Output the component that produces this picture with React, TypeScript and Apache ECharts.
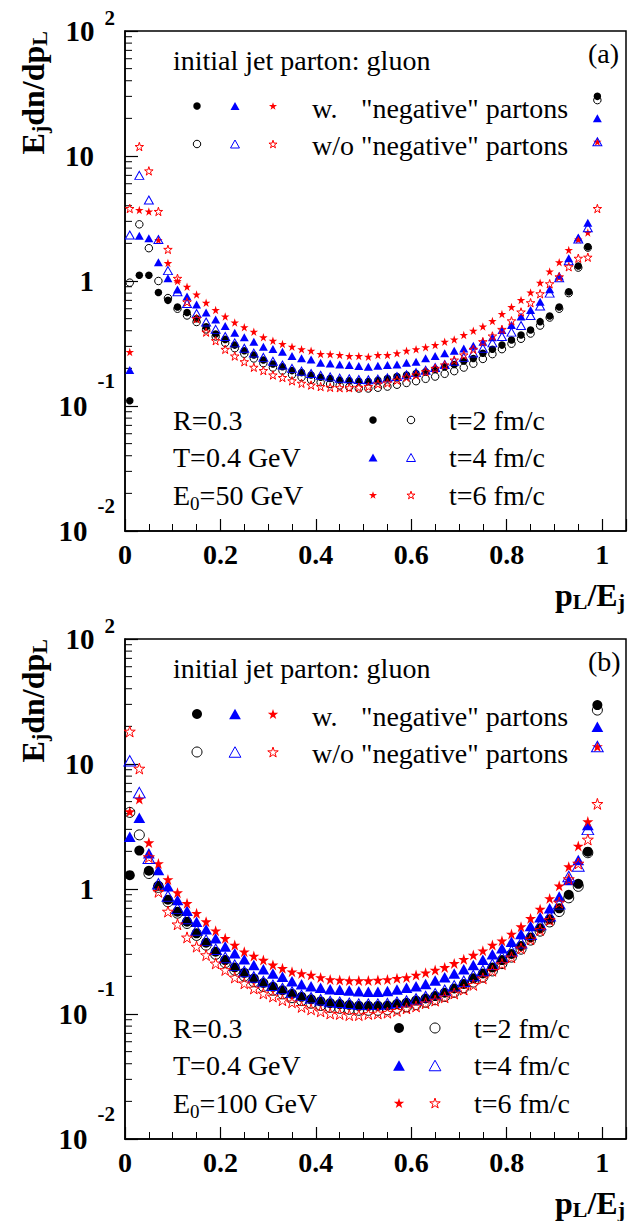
import React, { useEffect, useRef } from 'react';
import * as echarts from 'echarts';

const FONT = "'Liberation Serif', 'Times New Roman', Times, serif";

// bin centres in p_L/E_j
const pL = [0.01, 0.03, 0.05, 0.07, 0.09, 0.11, 0.13, 0.15, 0.17, 0.19, 0.21, 0.23, 0.25, 0.27, 0.29, 0.31, 0.33, 0.35, 0.37, 0.39, 0.41, 0.43, 0.45, 0.47, 0.49, 0.51, 0.53, 0.55, 0.57, 0.59, 0.61, 0.63, 0.65, 0.67, 0.69, 0.71, 0.73, 0.75, 0.77, 0.79, 0.81, 0.83, 0.85, 0.87, 0.89, 0.91, 0.93, 0.95, 0.97, 0.99];

// panel (a): E0 = 50 GeV
const a_w_t2 = [0.11, 1.11, 1.11, 0.81, 0.70, 0.62, 0.56, 0.50, 0.43, 0.377, 0.341, 0.307, 0.277, 0.256, 0.233, 0.217, 0.206, 0.192, 0.185, 0.177, 0.170, 0.166, 0.161, 0.159, 0.158, 0.157, 0.161, 0.166, 0.172, 0.177, 0.182, 0.188, 0.197, 0.206, 0.215, 0.229, 0.240, 0.264, 0.284, 0.307, 0.337, 0.370, 0.406, 0.473, 0.525, 0.62, 0.82, 1.32, 1.88, 30];
const a_wo_t2 = [0.97, 2.84, 1.83, 1.0, 0.73, 0.60, 0.53, 0.47, 0.41, 0.36, 0.32, 0.29, 0.262, 0.24, 0.22, 0.203, 0.192, 0.178, 0.170, 0.162, 0.155, 0.150, 0.146, 0.142, 0.138, 0.138, 0.140, 0.143, 0.148, 0.153, 0.158, 0.165, 0.172, 0.181, 0.190, 0.203, 0.218, 0.238, 0.26, 0.285, 0.315, 0.345, 0.38, 0.44, 0.51, 0.60, 0.80, 1.28, 1.85, 28];
const a_w_t4 = [0.194, 2.3, 2.2, 1.41, 1.05, 0.857, 0.75, 0.65, 0.56, 0.493, 0.436, 0.386, 0.354, 0.327, 0.298, 0.286, 0.272, 0.251, 0.241, 0.236, 0.222, 0.219, 0.215, 0.213, 0.209, 0.206, 0.210, 0.213, 0.215, 0.222, 0.226, 0.241, 0.251, 0.264, 0.277, 0.289, 0.304, 0.327, 0.354, 0.406, 0.445, 0.519, 0.586, 0.683, 0.86, 1.1, 1.52, 2.23, 2.93, 20];
const a_wo_t4 = [2.33, 7.0, 4.45, 2.15, 1.21, 0.82, 0.66, 0.55, 0.47, 0.41, 0.36, 0.32, 0.29, 0.265, 0.245, 0.228, 0.213, 0.200, 0.19, 0.182, 0.176, 0.171, 0.167, 0.165, 0.163, 0.162, 0.164, 0.168, 0.172, 0.178, 0.185, 0.193, 0.203, 0.215, 0.228, 0.245, 0.265, 0.29, 0.32, 0.36, 0.39, 0.44, 0.53, 0.63, 0.80, 1.06, 1.45, 2.17, 2.67, 13];
const a_w_t6 = [0.27, 3.7, 3.6, 2.13, 1.39, 1.0, 0.90, 0.78, 0.67, 0.586, 0.52, 0.465, 0.426, 0.393, 0.354, 0.333, 0.313, 0.298, 0.284, 0.277, 0.261, 0.259, 0.256, 0.251, 0.251, 0.248, 0.256, 0.256, 0.264, 0.277, 0.284, 0.295, 0.307, 0.327, 0.341, 0.370, 0.40, 0.432, 0.479, 0.545, 0.62, 0.705, 0.81, 0.97, 1.19, 1.41, 1.77, 2.15, 2.44, 13];
const a_wo_t6 = [3.8, 11.9, 7.6, 3.6, 1.79, 1.05, 0.68, 0.50, 0.39, 0.333, 0.284, 0.251, 0.226, 0.204, 0.192, 0.177, 0.169, 0.159, 0.152, 0.147, 0.143, 0.141, 0.140, 0.140, 0.141, 0.143, 0.150, 0.153, 0.161, 0.170, 0.177, 0.188, 0.200, 0.213, 0.233, 0.256, 0.284, 0.327, 0.363, 0.41, 0.48, 0.565, 0.67, 0.79, 0.95, 1.08, 1.30, 1.52, 1.55, 3.8];

// panel (b): E0 = 100 GeV
const b_w_t2 = [1.29, 2.03, 1.40, 1.06, 0.82, 0.659, 0.548, 0.442, 0.372, 0.315, 0.270, 0.236, 0.213, 0.192, 0.177, 0.165, 0.155, 0.145, 0.137, 0.131, 0.126, 0.122, 0.120, 0.118, 0.116, 0.116, 0.116, 0.117, 0.120, 0.123, 0.128, 0.133, 0.139, 0.148, 0.160, 0.174, 0.193, 0.211, 0.236, 0.270, 0.302, 0.350, 0.410, 0.485, 0.572, 0.70, 0.90, 1.10, 1.99, 29.6];
const b_wo_t2 = [4.1, 2.71, 1.33, 1.03, 0.79, 0.64, 0.53, 0.425, 0.355, 0.30, 0.257, 0.224, 0.201, 0.181, 0.166, 0.155, 0.145, 0.135, 0.128, 0.122, 0.117, 0.113, 0.111, 0.109, 0.107, 0.107, 0.107, 0.108, 0.111, 0.114, 0.119, 0.124, 0.130, 0.138, 0.149, 0.162, 0.180, 0.197, 0.221, 0.253, 0.285, 0.330, 0.39, 0.46, 0.545, 0.66, 0.85, 1.05, 1.95, 27];
const b_w_t4 = [2.62, 3.72, 1.93, 1.42, 1.05, 0.817, 0.671, 0.548, 0.476, 0.403, 0.346, 0.306, 0.274, 0.247, 0.228, 0.211, 0.199, 0.183, 0.173, 0.167, 0.162, 0.158, 0.156, 0.154, 0.152, 0.151, 0.151, 0.153, 0.157, 0.162, 0.167, 0.174, 0.185, 0.197, 0.211, 0.228, 0.247, 0.272, 0.300, 0.335, 0.379, 0.437, 0.506, 0.593, 0.70, 0.87, 1.18, 1.71, 3.25, 19.9];
const b_wo_t4 = [10.6, 5.9, 1.76, 1.10, 0.88, 0.70, 0.58, 0.47, 0.39, 0.33, 0.283, 0.246, 0.219, 0.198, 0.182, 0.170, 0.160, 0.150, 0.141, 0.135, 0.130, 0.126, 0.124, 0.122, 0.120, 0.120, 0.120, 0.121, 0.124, 0.127, 0.132, 0.138, 0.145, 0.155, 0.168, 0.183, 0.203, 0.223, 0.25, 0.285, 0.32, 0.372, 0.435, 0.52, 0.61, 0.76, 1.26, 1.53, 3.0, 13.8];
const b_w_t6 = [4.16, 5.25, 2.35, 1.60, 1.19, 0.935, 0.768, 0.639, 0.548, 0.464, 0.403, 0.356, 0.315, 0.291, 0.270, 0.247, 0.232, 0.218, 0.211, 0.205, 0.196, 0.189, 0.187, 0.185, 0.185, 0.185, 0.187, 0.189, 0.193, 0.196, 0.205, 0.214, 0.225, 0.236, 0.254, 0.274, 0.296, 0.321, 0.356, 0.386, 0.437, 0.500, 0.582, 0.69, 0.84, 1.06, 1.51, 2.21, 3.46, 13.8];
const b_wo_t6 = [18.2, 9.2, 1.8, 0.95, 0.66, 0.522, 0.41, 0.346, 0.296, 0.254, 0.225, 0.196, 0.176, 0.160, 0.146, 0.138, 0.129, 0.124, 0.114, 0.109, 0.105, 0.101, 0.100, 0.098, 0.098, 0.100, 0.101, 0.1025, 0.106, 0.111, 0.115, 0.122, 0.128, 0.136, 0.146, 0.157, 0.171, 0.193, 0.222, 0.251, 0.284, 0.335, 0.396, 0.470, 0.565, 0.78, 1.2, 1.6, 2.49, 4.8];

// log-axis minor tick mantissas and decades
const MINOR_MANTISSA = [2, 3, 4, 5, 6, 7, 8, 9];
const DECADES = [0.01, 0.1, 1, 10];
const Y_MINOR = DECADES.flatMap((d) => MINOR_MANTISSA.map((m) => +(m * d).toPrecision(3)));

const STAR_PATH =
  'path://M0,-10L2.245,-3.09L9.511,-3.09L3.633,1.18L5.878,8.09L0,3.82L-5.878,8.09L-3.633,1.18L-9.511,-3.09L-2.245,-3.09Z';

const BLACK = '#000000';
const BLUE = '#0000ff';
const RED = '#ff0000';

type Kind = 'circle' | 'triangle' | 'star';

const SERIES_STYLES: { kind: Kind; filled: boolean; color: string; label: string }[] = [
  { kind: 'circle', filled: true, color: BLACK, label: 'w. t=2 fm/c' },
  { kind: 'triangle', filled: true, color: BLUE, label: 'w. t=4 fm/c' },
  { kind: 'star', filled: true, color: RED, label: 'w. t=6 fm/c' },
  { kind: 'circle', filled: false, color: BLACK, label: 'w/o t=2 fm/c' },
  { kind: 'triangle', filled: false, color: BLUE, label: 'w/o t=4 fm/c' },
  { kind: 'star', filled: false, color: RED, label: 'w/o t=6 fm/c' },
];

const PANELS = [
  {
    top: 31,
    tag: '(a)',
    energy: '=50 GeV',
    values: [a_w_t2, a_w_t4, a_w_t6, a_wo_t2, a_wo_t4, a_wo_t6],
    size: { circle: 7.5, triangle: 8, star: 8.5 },
    tMarkX: [373, 411],
    tTextX: 449,
  },
  {
    top: 639,
    tag: '(b)',
    energy: '=100 GeV',
    values: [b_w_t2, b_w_t4, b_w_t6, b_wo_t2, b_wo_t4, b_wo_t6],
    size: { circle: 10, triangle: 10.5, star: 11 },
    tMarkX: [399, 435],
    tTextX: 474,
  },
];

const GRID_LEFT = 125;
const GRID_WIDTH = 501;
const GRID_HEIGHT = 500;
const BODY_SIZE = 28;

function symbolSize(kind: Kind, s: number): number | number[] {
  if (kind === 'triangle') return [s * 1.12, s];
  return s;
}

function markerGraphic(kind: Kind, filled: boolean, color: string, x: number, y: number, s: number) {
  const style: any = filled ? { fill: color } : { fill: 'none', stroke: color, lineWidth: 1 };
  if (kind === 'circle') {
    return { type: 'circle', silent: true, shape: { cx: x, cy: y, r: s / 2 }, style };
  }
  if (kind === 'triangle') {
    const w = s * 1.12;
    return {
      type: 'polygon',
      silent: true,
      shape: { points: [[x, y - s / 2], [x + w / 2, y + s / 2], [x - w / 2, y + s / 2]] },
      style,
    };
  }
  const pts: number[][] = [];
  for (let k = 0; k < 10; k++) {
    const r = ((k % 2 === 0 ? 1 : 0.382) * s) / 2;
    const ang = -Math.PI / 2 + (k * Math.PI) / 5;
    pts.push([x + r * Math.cos(ang), y + r * Math.sin(ang) + s * 0.05]);
  }
  return { type: 'polygon', silent: true, shape: { points: pts }, style };
}

function text(x: number, y: number, str: string, extra: any = {}) {
  return {
    type: 'text',
    x,
    y,
    silent: true,
    style: {
      text: str,
      fontFamily: FONT,
      fontSize: BODY_SIZE,
      fill: '#000',
      align: 'left',
      verticalAlign: 'middle',
      ...extra,
    },
  };
}

function yLabel(v: number): string {
  const e = Math.round(Math.log10(v));
  if (e === 0) return '{n|1}{e| }';
  if (e === 1) return '{n|10}{e| }';
  if (e === 2) return '{n|10}{p|2}';
  return `{n|10}{m|${e}}`;
}

function buildOption() {
  const grid: any[] = [];
  const xAxis: any[] = [];
  const yAxis: any[] = [];
  const series: any[] = [];
  const graphic: any[] = [];

  PANELS.forEach((P, pi) => {
    grid.push({
      left: GRID_LEFT,
      top: P.top,
      width: GRID_WIDTH,
      height: GRID_HEIGHT,
      show: true,
      borderColor: '#000',
      borderWidth: 1.5,
      backgroundColor: 'rgba(0,0,0,0)',
      containLabel: false,
      outerBoundsMode: 'none',
    });

    // labelled axis with major ticks
    xAxis.push({
      type: 'value',
      gridIndex: pi,
      min: 0,
      max: 1.05,
      interval: 0.2,
      position: 'bottom',
      axisLine: { show: true, lineStyle: { color: '#000', width: 1.5 } },
      axisTick: { show: true, inside: true, length: 12, lineStyle: { color: '#000', width: 1.2 } },
      splitLine: { show: false },
      axisLabel: {
        margin: 9,
        fontFamily: FONT,
        fontWeight: 'bold',
        fontSize: 28,
        color: '#000',
        formatter: (v: number) => (v > 1.0001 ? '' : String(+v.toFixed(1))),
      },
    });
    // minor ticks every 0.05
    xAxis.push({
      type: 'value',
      gridIndex: pi,
      min: 0,
      max: 1.05,
      interval: 0.05,
      position: 'bottom',
      axisLine: { show: false },
      axisTick: { show: true, inside: true, length: 7, lineStyle: { color: '#000', width: 1 } },
      splitLine: { show: false },
      axisLabel: { show: false },
    });

    yAxis.push({
      type: 'log',
      logBase: 10,
      gridIndex: pi,
      min: 0.01,
      max: 100,
      axisLine: { show: true, lineStyle: { color: '#000', width: 1.5 } },
      axisTick: { show: true, inside: true, length: 13, lineStyle: { color: '#000', width: 1.2 } },
      splitLine: { show: false },
      axisLabel: {
        margin: 10,
        formatter: yLabel,
        rich: {
          n: { fontFamily: FONT, fontWeight: 'bold', fontSize: 29, color: '#000' },
          e: { fontFamily: FONT, fontSize: 29, width: 21 },
          p: { fontFamily: FONT, fontWeight: 'bold', fontSize: 21, color: '#000', padding: [0, 0, 26, 10] },
          m: { fontFamily: FONT, fontWeight: 'bold', fontSize: 21, color: '#000', padding: [0, 0, 50, 10] },
        },
      },
    });

    // log minor ticks on the left axis
    series.push({
      type: 'custom',
      xAxisIndex: pi * 2,
      yAxisIndex: pi,
      silent: true,
      data: Y_MINOR.map((v) => [0, v]),
      renderItem: (_params: any, api: any) => {
        const p = api.coord([0, api.value(1)]);
        return {
          type: 'line',
          shape: { x1: p[0], y1: p[1], x2: p[0] + 7, y2: p[1] },
          style: { stroke: '#000', lineWidth: 1 },
        };
      },
    });

    SERIES_STYLES.forEach((S, si) => {
      const s = (P.size as any)[S.kind] as number;
      series.push({
        type: 'scatter',
        name: S.label,
        xAxisIndex: pi * 2,
        yAxisIndex: pi,
        silent: true,
        symbol: S.kind === 'star' ? STAR_PATH : S.kind,
        symbolSize: symbolSize(S.kind, s),
        itemStyle: S.filled
          ? { color: S.color, opacity: 1 }
          : { color: 'rgba(0,0,0,0)', borderColor: S.color, borderWidth: 1, opacity: 1 },
        data: pL.map((x, i) => [x, P.values[si][i]]),
      });
    });

    const t = P.top;
    // annotation block at the top
    graphic.push(text(173, t + 29, 'initial jet parton: gluon'));
    graphic.push(text(588, t + 22, P.tag));
    const legX = [197, 235, 273];
    for (let k = 0; k < 3; k++) {
      const A = SERIES_STYLES[k];
      const B = SERIES_STYLES[k + 3];
      const s = (P.size as any)[A.kind] as number;
      graphic.push(markerGraphic(A.kind, true, A.color, legX[k], t + 75, s));
      graphic.push(markerGraphic(B.kind, false, B.color, legX[k], t + 113, s));
    }
    graphic.push(text(312, t + 77, 'w.'));
    graphic.push(text(361, t + 77, '"negative" partons'));
    graphic.push(text(312, t + 114, 'w/o "negative" partons'));

    // parameter block at the bottom
    graphic.push(text(173, t + 389, 'R=0.3'));
    graphic.push(text(173, t + 426, 'T=0.4 GeV'));
    graphic.push(
      text(173, t + 464, `{a|E}{b|0}{a|${P.energy}}`, {
        rich: {
          a: { fontFamily: FONT, fontSize: BODY_SIZE, color: '#000' },
          b: { fontFamily: FONT, fontSize: 19, color: '#000', padding: [16, 0, 0, 0] },
        },
      })
    );
    const tLabels = ['t=2 fm/c', 't=4 fm/c', 't=6 fm/c'];
    for (let k = 0; k < 3; k++) {
      const A = SERIES_STYLES[k];
      const s = (P.size as any)[A.kind] as number;
      const yy = t + 389 + k * 37.5;
      graphic.push(markerGraphic(A.kind, true, A.color, P.tMarkX[0], yy, s));
      graphic.push(markerGraphic(A.kind, false, A.color, P.tMarkX[1], yy, s));
      graphic.push(text(P.tTextX, yy, tLabels[k]));
    }

    // axis titles
    const titleRich = {
      b: { fontFamily: FONT, fontWeight: 'bold', fontSize: 32, color: '#000' },
      s: { fontFamily: FONT, fontWeight: 'bold', fontSize: 22, color: '#000', padding: [12, 0, 0, 0] },
    };
    graphic.push({
      type: 'text',
      x: 33,
      y: t,
      rotation: Math.PI / 2,
      silent: true,
      style: {
        text: '{b|E}{s|j}{b|dn/dp}{s|L}',
        align: 'right',
        verticalAlign: 'middle',
        rich: titleRich,
      },
    });
    graphic.push({
      type: 'text',
      x: 625,
      y: t + 564,
      silent: true,
      style: {
        text: '{b|p}{s|L}{b|/E}{s|j}',
        align: 'right',
        verticalAlign: 'middle',
        rich: titleRich,
      },
    });
  });

  return {
    animation: false,
    backgroundColor: '#ffffff',
    grid,
    xAxis,
    yAxis,
    series,
    graphic,
  };
}

export default function App() {
  const ref = useRef<HTMLDivElement>(null);
  useEffect(() => {
    if (!ref.current) return;
    const chart = echarts.init(ref.current, undefined, { renderer: 'svg' });
    chart.setOption(buildOption() as any);
    return () => chart.dispose();
  }, []);
  return (
    <div
      ref={ref}
      style={{ position: 'absolute', left: 0, top: 0, width: 636, height: 1221, background: '#fff' }}
    />
  );
}
